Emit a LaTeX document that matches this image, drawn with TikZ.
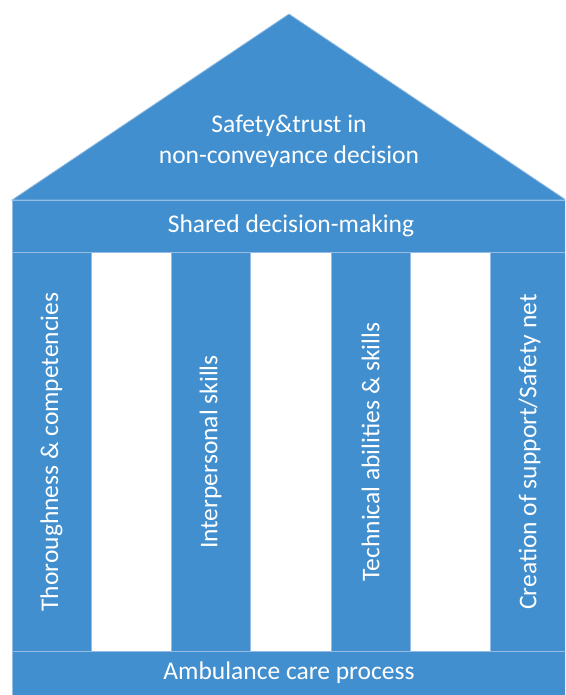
\documentclass[tikz,border=0pt]{standalone}
\usepackage{fontspec}
\setmainfont{Carlito}
\definecolor{pblue}{RGB}{65,143,206}
\definecolor{pline}{RGB}{150,190,228}
\begin{document}
\begin{tikzpicture}[x=1pt,y=-1pt,
  part/.style={fill=pblue,draw=pline,line width=0.8pt,inner sep=0pt,outer sep=0pt},
  txt/.style={text=white,font=\fontsize{25.5}{31}\selectfont},
  pillar/.style={part,txt,rotate=90,minimum width=399pt,minimum height=79pt}]
\useasboundingbox (0,0) rectangle (565,695);
\clip (0,0) rectangle (565,695);
\fill[white] (0,0) rectangle (565,695);
% roof
\filldraw[part] (12,200) coordinate (rl) -- (289,14) coordinate (apex) -- (566,200) coordinate (rr) -- cycle;
\node[txt,align=center] (roof) at (289,141) {Safety\&trust in\\non-conveyance decision};
% entablature
\node[part,txt,minimum width=558pt,minimum height=52pt] (band) at (291,226) {Shared decision-making};
% pillars
\node[pillar] (p1) at (51.5,452) {Thoroughness \& competencies};
\node[pillar] (p2) at (210.5,452) {Interpersonal skills};
\node[pillar] (p3) at (370.5,452) {Technical abilities \& skills};
\node[pillar] (p4) at (529.5,452) {Creation of support/Safety net};
% base
\node[part,txt,minimum width=558pt,minimum height=44pt] (base) at (291,673) {};
\node[txt] (basetext) at (289,673) {Ambulance care process};
\end{tikzpicture}
\end{document}
